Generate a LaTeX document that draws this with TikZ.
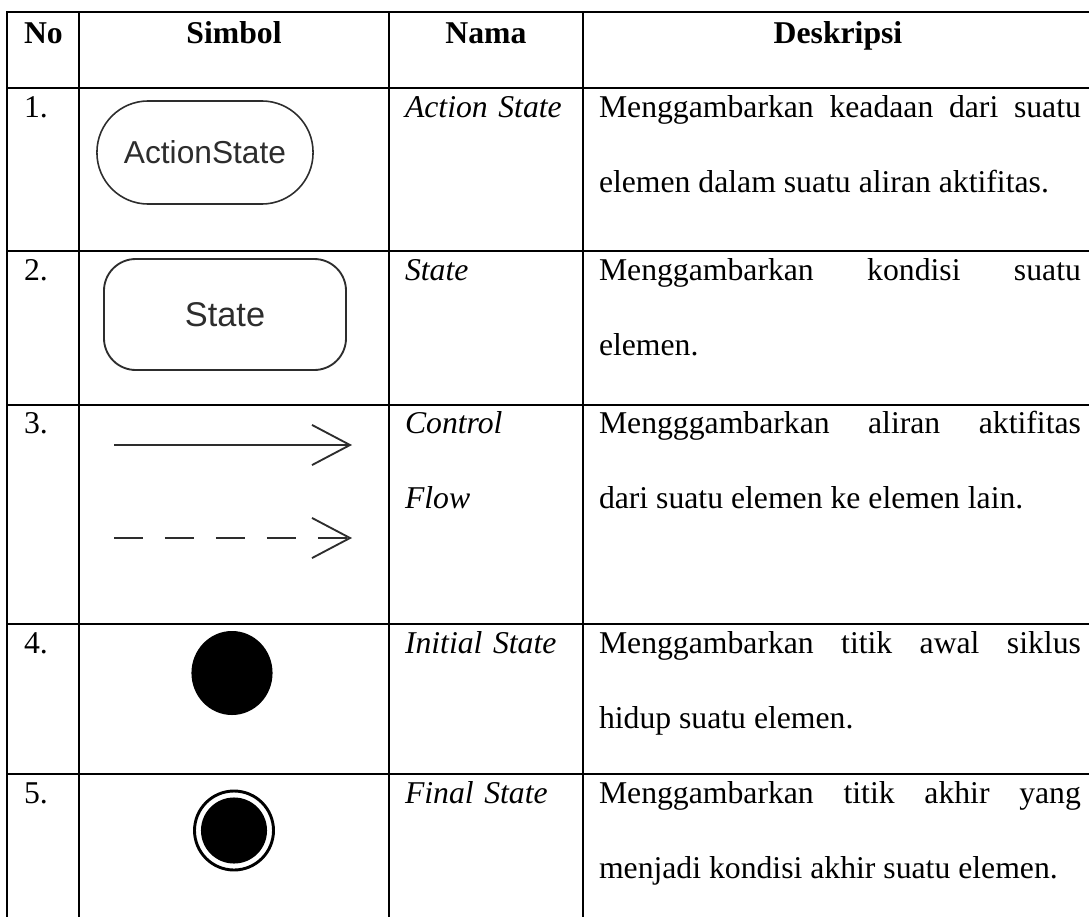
\documentclass[tikz,border=0pt]{standalone}
\usepackage{fontspec}
\setmainfont{Liberation Serif}
\newfontfamily\symfont{Liberation Sans}
\usepackage{xcolor}
\usepackage{tikz}
\usetikzlibrary{arrows.meta,shapes.geometric}
\hyphenpenalty=10000

\begin{document}
\begin{tikzpicture}[x=0.3785pt,y=0.3785pt,
  tabline/.style={draw=black,line width=1.1pt,line cap=rect},
  cell/.style={anchor=base west,inner sep=0pt,outer sep=0pt,font=\fontsize{12}{14}\selectfont},
  headcell/.style={anchor=base,inner sep=0pt,outer sep=0pt,font=\fontsize{12}{14}\selectfont\bfseries},
  namecell/.style={cell,text width=64pt,align=left,font=\fontsize{12}{28.4}\selectfont\itshape},
  desccell/.style={cell,text width=182.4pt,align=justify,font=\fontsize{12}{28.4}\selectfont},
  actbox/.style={draw=symColor,line width=0.6pt,rounded corners=19.4pt,minimum width=81.8pt,minimum height=39pt,inner sep=0pt,text=symColor,font=\symfont\fontsize{12}{14}\selectfont},
  statebox/.style={draw=symColor,line width=0.7pt,rounded corners=12pt,minimum width=91.6pt,minimum height=42pt,inner sep=0pt,text=symColor,font=\symfont\fontsize{13}{15}\selectfont},
  flowline/.style={draw=symColor,line width=0.7pt,-{Straight Barb[length=14.4pt,width=15.2pt,line width=0.7pt]}},
  initdot/.style={ellipse,fill=black,minimum width=30.7pt,minimum height=31.8pt,inner sep=0pt},
  finring/.style={circle,draw=black,line width=1.1pt,minimum size=29.9pt,inner sep=0pt},
  findot/.style={circle,fill=black,minimum size=25pt,inner sep=0pt}]
\definecolor{symColor}{RGB}{45,45,45}
\path[use as bounding box,fill=white] (0,0) rectangle (1089,916);

% table rules
\path[tabline] (7,904) -- (1089,904);
\path[tabline] (7,828) -- (1089,828);
\path[tabline] (7,665) -- (1089,665);
\path[tabline] (7,511) -- (1089,511);
\path[tabline] (7,292) -- (1089,292);
\path[tabline] (7,142) -- (1089,142);

\path[tabline] (7,904) -- (7,0);
\path[tabline] (79,904) -- (79,0);
\path[tabline] (389,904) -- (389,0);
\path[tabline] (583,904) -- (583,0);

% header
\node[headcell,anchor=base west] (hNo) at (24,873) {No};
\node[headcell] (hSimbol) at (234,873) {Simbol};
\node[headcell] (hNama) at (486,873) {Nama};
\node[headcell] (hDesk) at (838,873) {Deskripsi};

% numbers
\node[cell] (no1) at (24,799) {1.};
\node[cell] (no2) at (24,636) {2.};
\node[cell] (no3) at (24,483) {3.};
\node[cell] (no4) at (24,263) {4.};
\node[cell] (no5) at (24,113) {5.};

% names
\node[namecell] (nm1) at (405,799) {Action State};
\node[namecell] (nm2) at (405,636) {State};
\node[namecell] (nm3) at (405,483) {Control\\Flow};
\node[namecell] (nm4) at (405,263) {Initial State};
\node[namecell] (nm5) at (405,113) {Final State};

% descriptions
\node[desccell] (ds1) at (599,799) {Menggambarkan keadaan dari suatu\linebreak elemen dalam suatu aliran aktifitas.};
\node[desccell] (ds2) at (599,636) {Menggambarkan kondisi suatu\linebreak elemen.};
\node[desccell] (ds3) at (599,483) {Mengggambarkan aliran aktifitas\linebreak dari suatu elemen ke elemen lain.};
\node[desccell] (ds4) at (599,263) {Menggambarkan titik awal siklus\linebreak hidup suatu elemen.};
\node[desccell] (ds5) at (599,113) {Menggambarkan titik akhir yang\linebreak menjadi kondisi akhir suatu elemen.};

% symbols
\node[actbox] (act) at (205,763.5) {ActionState};
\node[statebox] (st) at (225,601.5) {State};

\coordinate (cfA) at (114,471);
\coordinate (cfB) at (352,471);
\draw[flowline] (cfA) -- (cfB);
\coordinate (cfC) at (114,378);
\coordinate (cfD) at (352,378);
\draw[flowline,dash pattern=on 11pt off 8.3pt] (cfC) -- (cfD);

\node[initdot] (ini) at (232,243) {};
\node[finring] (fin) at (234,85.5) {};
\node[findot] (finin) at (fin.center) {};
\end{tikzpicture}
\end{document}
